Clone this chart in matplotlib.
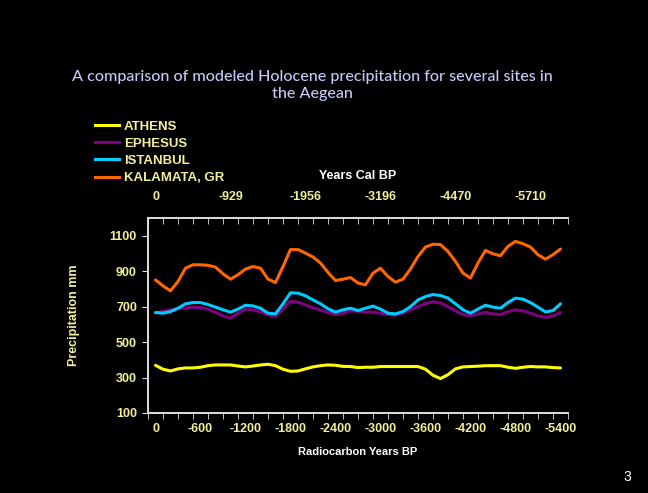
import matplotlib.pyplot as plt
from matplotlib.lines import Line2D

# radiocarbon years BP, every 100 yr (plotted as negative values)
years = [-100 * i for i in range(55)]

athens = [369, 347, 337, 349, 354, 354, 358, 367, 371, 371,
          371, 365, 360, 365, 371, 375, 367, 347, 335, 337,
          349, 360, 367, 371, 369, 363, 362, 356, 358, 358,
          362, 362, 362, 362, 362, 362, 347, 313, 294, 316,
          349, 360, 362, 364, 367, 367, 367, 358, 352, 358,
          362, 360, 360, 356, 354]
ephesus = [663, 674, 682, 688, 693, 697, 695, 686, 667, 648,
           635, 663, 686, 682, 670, 655, 644, 686, 731, 725,
           710, 693, 682, 667, 655, 663, 676, 674, 670, 669,
           663, 655, 652, 663, 682, 700, 718, 728, 720, 700,
           676, 655, 648, 659, 667, 659, 655, 672, 682, 676,
           663, 648, 639, 648, 667]
istanbul = [667, 663, 672, 691, 716, 723, 723, 712, 697, 682,
            669, 686, 708, 704, 691, 663, 659, 716, 778, 776,
            761, 738, 716, 688, 669, 682, 691, 678, 691, 703,
            686, 663, 659, 672, 700, 738, 757, 768, 763, 748,
            716, 682, 663, 686, 708, 697, 691, 723, 748, 742,
            723, 697, 670, 678, 716]
kalamata = [851, 817, 789, 842, 917, 936, 936, 933, 923, 885,
            855, 880, 912, 926, 917, 855, 836, 926, 1022, 1022,
            1002, 980, 946, 893, 847, 855, 864, 833, 823, 889,
            917, 870, 838, 855, 912, 983, 1036, 1052, 1050, 1011,
            955, 889, 861, 946, 1017, 998, 987, 1040, 1068, 1055,
            1036, 993, 968, 993, 1025]

series_names = ['ATHENS', 'EPHESUS', 'ISTANBUL', 'KALAMATA, GR']
series_colors = ['#ffff00', '#800080', '#00ccff', '#ff6600']

bottom_ticks = [0, -600, -1200, -1800, -2400, -3000, -3600, -4200, -4800, -5400]
top_ticks = [0, -1000, -2000, -3000, -4000, -5000]
cal_labels = ['0', '-929', '-1956', '-3196', '-4470', '-5710']
y_ticks = [100, 300, 500, 700, 900, 1100]

label_color = '#f0f09a'
spine_color = '#e0e0e0'

fig = plt.figure(figsize=(6.48, 4.93), dpi=100, facecolor='black')
ax = fig.add_axes([0.2284, 0.1623, 0.6481, 0.3955])
ax.set_facecolor('black')

for vals, name, c in zip([athens, ephesus, istanbul, kalamata], series_names, series_colors):
    ax.plot(years, vals, color=c, lw=2.2, label=name, solid_capstyle='round',
            solid_joinstyle='round')

ax.set_xlim(100, -5500)
ax.set_ylim(100, 1200)

boundaries = [100 - 200 * i for i in range(29)]
ax.set_xticks(bottom_ticks)
ax.set_xticklabels([str(t) for t in bottom_ticks])
ax.set_xticks(boundaries, minor=True)
ax.tick_params(axis='x', which='major', length=0, pad=7, colors=label_color, labelsize=9)
ax.tick_params(axis='x', which='minor', length=4, direction='out', color=spine_color)
ax.set_yticks(y_ticks)
ax.tick_params(axis='y', length=4, direction='out', colors=label_color, labelsize=9, pad=4)
ax.tick_params(axis='y', color=spine_color)
for lab in ax.get_xticklabels() + ax.get_yticklabels():
    lab.set_fontweight('bold')
    lab.set_fontfamily('Liberation Sans')

ax.set_xlabel('Radiocarbon Years BP', color='white', fontsize=8, fontweight='bold',
              family='Liberation Sans', labelpad=9)
ax.set_ylabel('Precipitation mm', color=label_color, fontsize=9, fontweight='bold',
              family='Liberation Sans', labelpad=21)

# calibrated ages along the top
top = ax.twiny()
top.set_xlim(ax.get_xlim())
top.set_xticks(top_ticks)
top.set_xticklabels(cal_labels)
top.set_xticks(boundaries, minor=True)
top.tick_params(axis='x', which='major', length=0, pad=10.5, colors=label_color, labelsize=9)
top.tick_params(axis='x', which='minor', length=4, direction='in', color=spine_color)
for lab in top.get_xticklabels():
    lab.set_fontweight('bold')
    lab.set_fontfamily('Liberation Sans')
top.set_xlabel('Years Cal BP', color='white', fontsize=9, fontweight='bold',
               family='Liberation Sans', labelpad=9)

for a in (ax, top):
    a.spines['right'].set_visible(False)
    for s in ('left', 'bottom', 'top'):
        a.spines[s].set_color(spine_color)
        a.spines[s].set_linewidth(1.2)

handles = [Line2D([], [], color=c, lw=2.2) for c in series_colors]
leg = fig.legend(handles, series_names, loc='upper left', bbox_to_anchor=(0.128, 0.78),
                 frameon=False, handlelength=1.8, handletextpad=0.4, labelspacing=0.38,
                 prop={'family': 'Liberation Sans', 'weight': 'bold', 'size': 9.5})
for t in leg.get_texts():
    t.set_color(label_color)

fig.text(0.4815, 0.826, 'A comparison of modeled Holocene precipitation for several sites in\nthe Aegean',
         ha='center', va='center', color='#c8c8f8', fontsize=11.6, family='Lato',
         fontweight='medium', linespacing=1.27)
fig.text(0.968, 0.032, '3', ha='center', va='center', color='white', fontsize=10,
         family='Liberation Sans')

fig.savefig('out.png', dpi=100, facecolor='black')
